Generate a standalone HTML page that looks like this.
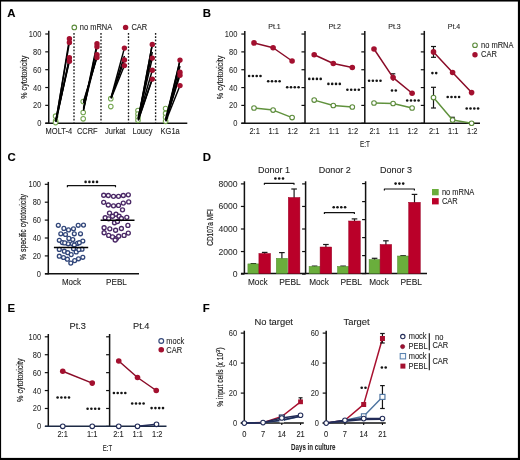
<!DOCTYPE html>
<html><head><meta charset="utf-8"><style>
html,body{margin:0;padding:0;background:#fff;}
svg{display:block;will-change:transform;}
text{font-family:"Liberation Sans", sans-serif;}
</style></head><body>
<svg width="520" height="460" viewBox="0 0 520 460">
<rect width="520" height="460" fill="#fff"/>
<rect x="0.5" y="0.5" width="518" height="458" fill="none" stroke="#000" stroke-width="1.2"/>
<rect x="518" y="0" width="2" height="460" fill="#000"/>
<rect x="0" y="0" width="520" height="1.5" fill="#000"/>
<rect x="0" y="458" width="520" height="2" fill="#000"/>
<text x="7.3" y="16.8" font-size="11.4" fill="#000" stroke="#000" stroke-width="0.1" font-weight="bold">A</text>
<line x1="48.75" y1="30.8" x2="48.75" y2="123.8" stroke="#111" stroke-width="1.5"/>
<line x1="45.25" y1="123.2" x2="48.75" y2="123.2" stroke="#111" stroke-width="1.2"/>
<text x="41.35" y="126.2" font-size="8.6" fill="#2a2a2a" stroke="#2a2a2a" stroke-width="0.05" text-anchor="end" textLength="4.16" lengthAdjust="spacingAndGlyphs">0</text>
<line x1="45.25" y1="105.36" x2="48.75" y2="105.36" stroke="#111" stroke-width="1.2"/>
<text x="41.35" y="108.36" font-size="8.6" fill="#2a2a2a" stroke="#2a2a2a" stroke-width="0.05" text-anchor="end" textLength="8.32" lengthAdjust="spacingAndGlyphs">20</text>
<line x1="45.25" y1="87.52" x2="48.75" y2="87.52" stroke="#111" stroke-width="1.2"/>
<text x="41.35" y="90.52" font-size="8.6" fill="#2a2a2a" stroke="#2a2a2a" stroke-width="0.05" text-anchor="end" textLength="8.32" lengthAdjust="spacingAndGlyphs">40</text>
<line x1="45.25" y1="69.68" x2="48.75" y2="69.68" stroke="#111" stroke-width="1.2"/>
<text x="41.35" y="72.68" font-size="8.6" fill="#2a2a2a" stroke="#2a2a2a" stroke-width="0.05" text-anchor="end" textLength="8.32" lengthAdjust="spacingAndGlyphs">60</text>
<line x1="45.25" y1="51.84" x2="48.75" y2="51.84" stroke="#111" stroke-width="1.2"/>
<text x="41.35" y="54.84" font-size="8.6" fill="#2a2a2a" stroke="#2a2a2a" stroke-width="0.05" text-anchor="end" textLength="8.32" lengthAdjust="spacingAndGlyphs">80</text>
<line x1="45.25" y1="34" x2="48.75" y2="34" stroke="#111" stroke-width="1.2"/>
<text x="41.35" y="37" font-size="8.6" fill="#2a2a2a" stroke="#2a2a2a" stroke-width="0.05" text-anchor="end" textLength="12.48" lengthAdjust="spacingAndGlyphs">100</text>
<line x1="45.3" y1="123.2" x2="187.3" y2="123.2" stroke="#111" stroke-width="1.5"/>
<line x1="74" y1="33" x2="74" y2="122.5" stroke="#1a1a1a" stroke-width="1.35" stroke-dasharray="1.7 1.6"/>
<line x1="101" y1="33" x2="101" y2="122.5" stroke="#1a1a1a" stroke-width="1.35" stroke-dasharray="1.7 1.6"/>
<line x1="128.5" y1="33" x2="128.5" y2="122.5" stroke="#1a1a1a" stroke-width="1.35" stroke-dasharray="1.7 1.6"/>
<line x1="155.6" y1="33" x2="155.6" y2="122.5" stroke="#1a1a1a" stroke-width="1.35" stroke-dasharray="1.7 1.6"/>
<text x="26.6" y="77.2" font-size="8.8" fill="#1e1e1e" stroke="#1e1e1e" stroke-width="0.2" text-anchor="middle" textLength="43" lengthAdjust="spacingAndGlyphs" transform="rotate(-90 26.6 77.2)">% cytotoxicity</text>
<circle cx="74.3" cy="27.4" r="2.3" fill="#fff" stroke="#5c8b3b" stroke-width="1.1"/>
<text x="79.8" y="29.9" font-size="8.6" fill="#1e1e1e" stroke="#1e1e1e" stroke-width="0.1" textLength="32.43" lengthAdjust="spacingAndGlyphs">no mRNA</text>
<circle cx="125.6" cy="27.4" r="2.7" fill="#a3102f" stroke="none" stroke-width="1"/>
<text x="131.4" y="29.9" font-size="8.6" fill="#1e1e1e" stroke="#1e1e1e" stroke-width="0.1" textLength="15.8" lengthAdjust="spacingAndGlyphs">CAR</text>
<circle cx="55.6" cy="116.2" r="2.3" fill="#fff" stroke="#74a650" stroke-width="1.05"/>
<circle cx="55.6" cy="121" r="2.3" fill="#fff" stroke="#74a650" stroke-width="1.05"/>
<circle cx="55.6" cy="122.6" r="2.3" fill="#fff" stroke="#74a650" stroke-width="1.05"/>
<circle cx="83.2" cy="101.5" r="2.3" fill="#fff" stroke="#74a650" stroke-width="1.05"/>
<circle cx="83.2" cy="112.5" r="2.3" fill="#fff" stroke="#74a650" stroke-width="1.05"/>
<circle cx="83.2" cy="118.8" r="2.3" fill="#fff" stroke="#74a650" stroke-width="1.05"/>
<circle cx="110.8" cy="98.7" r="2.3" fill="#fff" stroke="#74a650" stroke-width="1.05"/>
<circle cx="110.8" cy="106.6" r="2.3" fill="#fff" stroke="#74a650" stroke-width="1.05"/>
<circle cx="138" cy="110.5" r="2.3" fill="#fff" stroke="#74a650" stroke-width="1.05"/>
<circle cx="138" cy="114" r="2.3" fill="#fff" stroke="#74a650" stroke-width="1.05"/>
<circle cx="138" cy="117.3" r="2.3" fill="#fff" stroke="#74a650" stroke-width="1.05"/>
<circle cx="138" cy="120.3" r="2.3" fill="#fff" stroke="#74a650" stroke-width="1.05"/>
<circle cx="165.6" cy="108.5" r="2.3" fill="#fff" stroke="#74a650" stroke-width="1.05"/>
<circle cx="165.6" cy="113.4" r="2.3" fill="#fff" stroke="#74a650" stroke-width="1.05"/>
<circle cx="165.6" cy="117.3" r="2.3" fill="#fff" stroke="#74a650" stroke-width="1.05"/>
<circle cx="165.6" cy="121.3" r="2.3" fill="#fff" stroke="#74a650" stroke-width="1.05"/>
<line x1="55.9" y1="121.5" x2="69.4" y2="38.8" stroke="#000" stroke-width="1.45"/>
<line x1="55.9" y1="120.5" x2="69.4" y2="42.5" stroke="#000" stroke-width="1.45"/>
<line x1="55.9" y1="121.5" x2="69.4" y2="57.8" stroke="#000" stroke-width="1.45"/>
<line x1="55.9" y1="119.5" x2="69.4" y2="61.3" stroke="#000" stroke-width="1.45"/>
<line x1="55.9" y1="122" x2="69.4" y2="59" stroke="#000" stroke-width="1.45"/>
<line x1="83.5" y1="101.5" x2="97" y2="57.5" stroke="#000" stroke-width="1.45"/>
<line x1="83.5" y1="109.5" x2="97" y2="44" stroke="#000" stroke-width="1.45"/>
<line x1="83.5" y1="110.5" x2="97" y2="46.5" stroke="#000" stroke-width="1.45"/>
<line x1="83.5" y1="108" x2="97" y2="54.6" stroke="#000" stroke-width="1.45"/>
<line x1="83.5" y1="103" x2="97" y2="56" stroke="#000" stroke-width="1.45"/>
<line x1="111.1" y1="97.5" x2="124.4" y2="48.1" stroke="#000" stroke-width="1.45"/>
<line x1="111.1" y1="98" x2="124.4" y2="60" stroke="#000" stroke-width="1.45"/>
<line x1="111.1" y1="98.5" x2="124.4" y2="65.6" stroke="#000" stroke-width="1.45"/>
<line x1="111.1" y1="97.8" x2="124.4" y2="56" stroke="#000" stroke-width="1.45"/>
<line x1="138.3" y1="118.5" x2="152.3" y2="44.4" stroke="#000" stroke-width="1.45"/>
<line x1="138.3" y1="118" x2="152.3" y2="58.1" stroke="#000" stroke-width="1.45"/>
<line x1="138.3" y1="119" x2="152.3" y2="70.3" stroke="#000" stroke-width="1.45"/>
<line x1="138.3" y1="119.5" x2="152.3" y2="79.1" stroke="#000" stroke-width="1.45"/>
<line x1="138.3" y1="120" x2="152.3" y2="44.4" stroke="#000" stroke-width="1.45"/>
<line x1="138.3" y1="120.5" x2="152.3" y2="79" stroke="#000" stroke-width="1.45"/>
<line x1="138.3" y1="117.5" x2="152.3" y2="52" stroke="#000" stroke-width="1.45"/>
<line x1="165.9" y1="119" x2="180" y2="60.1" stroke="#000" stroke-width="1.45"/>
<line x1="165.9" y1="119.5" x2="180" y2="72.2" stroke="#000" stroke-width="1.45"/>
<line x1="165.9" y1="120" x2="180" y2="75.2" stroke="#000" stroke-width="1.45"/>
<line x1="165.9" y1="121" x2="180" y2="85.6" stroke="#000" stroke-width="1.45"/>
<line x1="165.9" y1="121.3" x2="180" y2="60.7" stroke="#000" stroke-width="1.45"/>
<line x1="165.9" y1="120.5" x2="180" y2="72" stroke="#000" stroke-width="1.45"/>
<line x1="165.9" y1="118" x2="180" y2="66" stroke="#000" stroke-width="1.45"/>
<circle cx="69.4" cy="38.8" r="2.7" fill="#a3102f" stroke="none" stroke-width="1"/>
<circle cx="69.4" cy="42.5" r="2.7" fill="#a3102f" stroke="none" stroke-width="1"/>
<circle cx="69.4" cy="57.8" r="2.7" fill="#a3102f" stroke="none" stroke-width="1"/>
<circle cx="69.4" cy="61.3" r="2.7" fill="#a3102f" stroke="none" stroke-width="1"/>
<circle cx="97" cy="43.8" r="2.7" fill="#a3102f" stroke="none" stroke-width="1"/>
<circle cx="97" cy="46.7" r="2.7" fill="#a3102f" stroke="none" stroke-width="1"/>
<circle cx="97" cy="54.6" r="2.7" fill="#a3102f" stroke="none" stroke-width="1"/>
<circle cx="97" cy="57.5" r="2.7" fill="#a3102f" stroke="none" stroke-width="1"/>
<circle cx="124.4" cy="48.1" r="2.7" fill="#a3102f" stroke="none" stroke-width="1"/>
<circle cx="124.4" cy="60" r="2.7" fill="#a3102f" stroke="none" stroke-width="1"/>
<circle cx="124.4" cy="65.6" r="2.7" fill="#a3102f" stroke="none" stroke-width="1"/>
<circle cx="152.3" cy="44.4" r="2.7" fill="#a3102f" stroke="none" stroke-width="1"/>
<circle cx="152.3" cy="58.1" r="2.7" fill="#a3102f" stroke="none" stroke-width="1"/>
<circle cx="152.3" cy="70.3" r="2.7" fill="#a3102f" stroke="none" stroke-width="1"/>
<circle cx="152.3" cy="79.1" r="2.7" fill="#a3102f" stroke="none" stroke-width="1"/>
<circle cx="180" cy="60.1" r="2.7" fill="#a3102f" stroke="none" stroke-width="1"/>
<circle cx="180" cy="72.2" r="2.7" fill="#a3102f" stroke="none" stroke-width="1"/>
<circle cx="180" cy="75.2" r="2.7" fill="#a3102f" stroke="none" stroke-width="1"/>
<circle cx="180" cy="85.6" r="2.7" fill="#a3102f" stroke="none" stroke-width="1"/>
<text x="45.6" y="133.7" font-size="8.6" fill="#1e1e1e" stroke="#1e1e1e" stroke-width="0.1" textLength="26.47" lengthAdjust="spacingAndGlyphs">MOLT-4</text>
<text x="76.9" y="133.7" font-size="8.6" fill="#1e1e1e" stroke="#1e1e1e" stroke-width="0.1" textLength="20.78" lengthAdjust="spacingAndGlyphs">CCRF</text>
<text x="105" y="133.7" font-size="8.6" fill="#1e1e1e" stroke="#1e1e1e" stroke-width="0.1" textLength="20.37" lengthAdjust="spacingAndGlyphs">Jurkat</text>
<text x="132.5" y="133.7" font-size="8.6" fill="#1e1e1e" stroke="#1e1e1e" stroke-width="0.1" textLength="19.97" lengthAdjust="spacingAndGlyphs">Loucy</text>
<text x="160.6" y="133.7" font-size="8.6" fill="#1e1e1e" stroke="#1e1e1e" stroke-width="0.1" textLength="19.13" lengthAdjust="spacingAndGlyphs">KG1a</text>
<text x="202.8" y="17.4" font-size="11.4" fill="#000" stroke="#000" stroke-width="0.1" font-weight="bold">B</text>
<line x1="244.8" y1="30.9" x2="244.8" y2="123.85" stroke="#111" stroke-width="1.5"/>
<line x1="241.3" y1="123.25" x2="244.8" y2="123.25" stroke="#111" stroke-width="1.2"/>
<text x="237.3" y="126.25" font-size="8.6" fill="#2a2a2a" stroke="#2a2a2a" stroke-width="0.05" text-anchor="end" textLength="4.16" lengthAdjust="spacingAndGlyphs">0</text>
<line x1="241.3" y1="105.41" x2="244.8" y2="105.41" stroke="#111" stroke-width="1.2"/>
<text x="237.3" y="108.41" font-size="8.6" fill="#2a2a2a" stroke="#2a2a2a" stroke-width="0.05" text-anchor="end" textLength="8.32" lengthAdjust="spacingAndGlyphs">20</text>
<line x1="241.3" y1="87.57" x2="244.8" y2="87.57" stroke="#111" stroke-width="1.2"/>
<text x="237.3" y="90.57" font-size="8.6" fill="#2a2a2a" stroke="#2a2a2a" stroke-width="0.05" text-anchor="end" textLength="8.32" lengthAdjust="spacingAndGlyphs">40</text>
<line x1="241.3" y1="69.73" x2="244.8" y2="69.73" stroke="#111" stroke-width="1.2"/>
<text x="237.3" y="72.73" font-size="8.6" fill="#2a2a2a" stroke="#2a2a2a" stroke-width="0.05" text-anchor="end" textLength="8.32" lengthAdjust="spacingAndGlyphs">60</text>
<line x1="241.3" y1="51.89" x2="244.8" y2="51.89" stroke="#111" stroke-width="1.2"/>
<text x="237.3" y="54.89" font-size="8.6" fill="#2a2a2a" stroke="#2a2a2a" stroke-width="0.05" text-anchor="end" textLength="8.32" lengthAdjust="spacingAndGlyphs">80</text>
<line x1="241.3" y1="34.05" x2="244.8" y2="34.05" stroke="#111" stroke-width="1.2"/>
<text x="237.3" y="37.05" font-size="8.6" fill="#2a2a2a" stroke="#2a2a2a" stroke-width="0.05" text-anchor="end" textLength="12.48" lengthAdjust="spacingAndGlyphs">100</text>
<line x1="305" y1="30.9" x2="305" y2="123.85" stroke="#111" stroke-width="1.5"/>
<line x1="301.5" y1="123.25" x2="305" y2="123.25" stroke="#111" stroke-width="1.2"/>
<line x1="301.5" y1="105.41" x2="305" y2="105.41" stroke="#111" stroke-width="1.2"/>
<line x1="301.5" y1="87.57" x2="305" y2="87.57" stroke="#111" stroke-width="1.2"/>
<line x1="301.5" y1="69.73" x2="305" y2="69.73" stroke="#111" stroke-width="1.2"/>
<line x1="301.5" y1="51.89" x2="305" y2="51.89" stroke="#111" stroke-width="1.2"/>
<line x1="301.5" y1="34.05" x2="305" y2="34.05" stroke="#111" stroke-width="1.2"/>
<line x1="364.8" y1="30.9" x2="364.8" y2="123.85" stroke="#111" stroke-width="1.5"/>
<line x1="361.3" y1="123.25" x2="364.8" y2="123.25" stroke="#111" stroke-width="1.2"/>
<line x1="361.3" y1="105.41" x2="364.8" y2="105.41" stroke="#111" stroke-width="1.2"/>
<line x1="361.3" y1="87.57" x2="364.8" y2="87.57" stroke="#111" stroke-width="1.2"/>
<line x1="361.3" y1="69.73" x2="364.8" y2="69.73" stroke="#111" stroke-width="1.2"/>
<line x1="361.3" y1="51.89" x2="364.8" y2="51.89" stroke="#111" stroke-width="1.2"/>
<line x1="361.3" y1="34.05" x2="364.8" y2="34.05" stroke="#111" stroke-width="1.2"/>
<line x1="424.3" y1="30.9" x2="424.3" y2="123.85" stroke="#111" stroke-width="1.5"/>
<line x1="420.8" y1="123.25" x2="424.3" y2="123.25" stroke="#111" stroke-width="1.2"/>
<line x1="420.8" y1="105.41" x2="424.3" y2="105.41" stroke="#111" stroke-width="1.2"/>
<line x1="420.8" y1="87.57" x2="424.3" y2="87.57" stroke="#111" stroke-width="1.2"/>
<line x1="420.8" y1="69.73" x2="424.3" y2="69.73" stroke="#111" stroke-width="1.2"/>
<line x1="420.8" y1="51.89" x2="424.3" y2="51.89" stroke="#111" stroke-width="1.2"/>
<line x1="420.8" y1="34.05" x2="424.3" y2="34.05" stroke="#111" stroke-width="1.2"/>
<line x1="241.3" y1="123.25" x2="480" y2="123.25" stroke="#111" stroke-width="1.5"/>
<text x="222.9" y="77.4" font-size="8.8" fill="#1e1e1e" stroke="#1e1e1e" stroke-width="0.2" text-anchor="middle" textLength="43.5" lengthAdjust="spacingAndGlyphs" transform="rotate(-90 222.9 77.4)">% cytotoxicity</text>
<text x="274.5" y="28.7" font-size="7" fill="#1e1e1e" stroke="#1e1e1e" stroke-width="0.1" text-anchor="middle">Pt.1</text>
<text x="254.6" y="133.9" font-size="8.6" fill="#1e1e1e" stroke="#1e1e1e" stroke-width="0.1" text-anchor="middle" textLength="10.4" lengthAdjust="spacingAndGlyphs">2:1</text>
<text x="273.7" y="133.9" font-size="8.6" fill="#1e1e1e" stroke="#1e1e1e" stroke-width="0.1" text-anchor="middle" textLength="10.4" lengthAdjust="spacingAndGlyphs">1:1</text>
<text x="292.7" y="133.9" font-size="8.6" fill="#1e1e1e" stroke="#1e1e1e" stroke-width="0.1" text-anchor="middle" textLength="10.4" lengthAdjust="spacingAndGlyphs">1:2</text>
<polyline points="254,42.9 273.1,47.75 292.1,61" fill="none" stroke="#8a0b27" stroke-width="1.5" stroke-linejoin="round"/>
<polyline points="254,108 273.1,110.1 292.1,117.6" fill="none" stroke="#60923d" stroke-width="1.5" stroke-linejoin="round"/>
<circle cx="254" cy="42.9" r="2.8" fill="#a3102f" stroke="none" stroke-width="1"/>
<circle cx="273.1" cy="47.75" r="2.8" fill="#a3102f" stroke="none" stroke-width="1"/>
<circle cx="292.1" cy="61" r="2.8" fill="#a3102f" stroke="none" stroke-width="1"/>
<circle cx="254" cy="108" r="2.3" fill="#fff" stroke="#5c8b3b" stroke-width="1.1"/>
<circle cx="273.1" cy="110.1" r="2.3" fill="#fff" stroke="#5c8b3b" stroke-width="1.1"/>
<circle cx="292.1" cy="117.6" r="2.3" fill="#fff" stroke="#5c8b3b" stroke-width="1.1"/>
<circle cx="249.1" cy="76" r="1.3" fill="#141414" stroke="none" stroke-width="1"/>
<circle cx="252.9" cy="76" r="1.3" fill="#141414" stroke="none" stroke-width="1"/>
<circle cx="256.7" cy="76" r="1.3" fill="#141414" stroke="none" stroke-width="1"/>
<circle cx="260.5" cy="76" r="1.3" fill="#141414" stroke="none" stroke-width="1"/>
<circle cx="268.2" cy="81.2" r="1.3" fill="#141414" stroke="none" stroke-width="1"/>
<circle cx="272" cy="81.2" r="1.3" fill="#141414" stroke="none" stroke-width="1"/>
<circle cx="275.8" cy="81.2" r="1.3" fill="#141414" stroke="none" stroke-width="1"/>
<circle cx="279.6" cy="81.2" r="1.3" fill="#141414" stroke="none" stroke-width="1"/>
<circle cx="287.2" cy="87.2" r="1.3" fill="#141414" stroke="none" stroke-width="1"/>
<circle cx="291" cy="87.2" r="1.3" fill="#141414" stroke="none" stroke-width="1"/>
<circle cx="294.8" cy="87.2" r="1.3" fill="#141414" stroke="none" stroke-width="1"/>
<circle cx="298.6" cy="87.2" r="1.3" fill="#141414" stroke="none" stroke-width="1"/>
<text x="334.7" y="28.7" font-size="7" fill="#1e1e1e" stroke="#1e1e1e" stroke-width="0.1" text-anchor="middle">Pt.2</text>
<text x="314.8" y="133.9" font-size="8.6" fill="#1e1e1e" stroke="#1e1e1e" stroke-width="0.1" text-anchor="middle" textLength="10.4" lengthAdjust="spacingAndGlyphs">2:1</text>
<text x="333.9" y="133.9" font-size="8.6" fill="#1e1e1e" stroke="#1e1e1e" stroke-width="0.1" text-anchor="middle" textLength="10.4" lengthAdjust="spacingAndGlyphs">1:1</text>
<text x="352.9" y="133.9" font-size="8.6" fill="#1e1e1e" stroke="#1e1e1e" stroke-width="0.1" text-anchor="middle" textLength="10.4" lengthAdjust="spacingAndGlyphs">1:2</text>
<polyline points="314.2,54.75 333.3,63.5 352.3,67.5" fill="none" stroke="#8a0b27" stroke-width="1.5" stroke-linejoin="round"/>
<polyline points="314.2,100.1 333.3,105.5 352.3,107" fill="none" stroke="#60923d" stroke-width="1.5" stroke-linejoin="round"/>
<circle cx="314.2" cy="54.75" r="2.8" fill="#a3102f" stroke="none" stroke-width="1"/>
<circle cx="333.3" cy="63.5" r="2.8" fill="#a3102f" stroke="none" stroke-width="1"/>
<circle cx="352.3" cy="67.5" r="2.8" fill="#a3102f" stroke="none" stroke-width="1"/>
<circle cx="314.2" cy="100.1" r="2.3" fill="#fff" stroke="#5c8b3b" stroke-width="1.1"/>
<circle cx="333.3" cy="105.5" r="2.3" fill="#fff" stroke="#5c8b3b" stroke-width="1.1"/>
<circle cx="352.3" cy="107" r="2.3" fill="#fff" stroke="#5c8b3b" stroke-width="1.1"/>
<circle cx="309.3" cy="78.9" r="1.3" fill="#141414" stroke="none" stroke-width="1"/>
<circle cx="313.1" cy="78.9" r="1.3" fill="#141414" stroke="none" stroke-width="1"/>
<circle cx="316.9" cy="78.9" r="1.3" fill="#141414" stroke="none" stroke-width="1"/>
<circle cx="320.7" cy="78.9" r="1.3" fill="#141414" stroke="none" stroke-width="1"/>
<circle cx="328.4" cy="83.9" r="1.3" fill="#141414" stroke="none" stroke-width="1"/>
<circle cx="332.2" cy="83.9" r="1.3" fill="#141414" stroke="none" stroke-width="1"/>
<circle cx="336" cy="83.9" r="1.3" fill="#141414" stroke="none" stroke-width="1"/>
<circle cx="339.8" cy="83.9" r="1.3" fill="#141414" stroke="none" stroke-width="1"/>
<circle cx="347.4" cy="89.75" r="1.3" fill="#141414" stroke="none" stroke-width="1"/>
<circle cx="351.2" cy="89.75" r="1.3" fill="#141414" stroke="none" stroke-width="1"/>
<circle cx="355" cy="89.75" r="1.3" fill="#141414" stroke="none" stroke-width="1"/>
<circle cx="358.8" cy="89.75" r="1.3" fill="#141414" stroke="none" stroke-width="1"/>
<text x="394.5" y="28.7" font-size="7" fill="#1e1e1e" stroke="#1e1e1e" stroke-width="0.1" text-anchor="middle">Pt.3</text>
<text x="374.6" y="133.9" font-size="8.6" fill="#1e1e1e" stroke="#1e1e1e" stroke-width="0.1" text-anchor="middle" textLength="10.4" lengthAdjust="spacingAndGlyphs">2:1</text>
<text x="393.7" y="133.9" font-size="8.6" fill="#1e1e1e" stroke="#1e1e1e" stroke-width="0.1" text-anchor="middle" textLength="10.4" lengthAdjust="spacingAndGlyphs">1:1</text>
<text x="412.7" y="133.9" font-size="8.6" fill="#1e1e1e" stroke="#1e1e1e" stroke-width="0.1" text-anchor="middle" textLength="10.4" lengthAdjust="spacingAndGlyphs">1:2</text>
<line x1="393.1" y1="73.8" x2="393.1" y2="81" stroke="#8a0b27" stroke-width="1.1"/>
<line x1="390.9" y1="73.8" x2="395.3" y2="73.8" stroke="#151515" stroke-width="1.2"/>
<polyline points="374,49 393.1,77.6 412.1,93.25" fill="none" stroke="#8a0b27" stroke-width="1.5" stroke-linejoin="round"/>
<polyline points="374,103 393.1,103.5 412.1,108" fill="none" stroke="#60923d" stroke-width="1.5" stroke-linejoin="round"/>
<circle cx="374" cy="49" r="2.8" fill="#a3102f" stroke="none" stroke-width="1"/>
<circle cx="393.1" cy="77.6" r="2.8" fill="#a3102f" stroke="none" stroke-width="1"/>
<circle cx="412.1" cy="93.25" r="2.8" fill="#a3102f" stroke="none" stroke-width="1"/>
<circle cx="374" cy="103" r="2.3" fill="#fff" stroke="#5c8b3b" stroke-width="1.1"/>
<circle cx="393.1" cy="103.5" r="2.3" fill="#fff" stroke="#5c8b3b" stroke-width="1.1"/>
<circle cx="412.1" cy="108" r="2.3" fill="#fff" stroke="#5c8b3b" stroke-width="1.1"/>
<circle cx="369.1" cy="80.75" r="1.3" fill="#141414" stroke="none" stroke-width="1"/>
<circle cx="372.9" cy="80.75" r="1.3" fill="#141414" stroke="none" stroke-width="1"/>
<circle cx="376.7" cy="80.75" r="1.3" fill="#141414" stroke="none" stroke-width="1"/>
<circle cx="380.5" cy="80.75" r="1.3" fill="#141414" stroke="none" stroke-width="1"/>
<circle cx="392" cy="90.5" r="1.3" fill="#141414" stroke="none" stroke-width="1"/>
<circle cx="395.8" cy="90.5" r="1.3" fill="#141414" stroke="none" stroke-width="1"/>
<circle cx="407.2" cy="100.5" r="1.3" fill="#141414" stroke="none" stroke-width="1"/>
<circle cx="411" cy="100.5" r="1.3" fill="#141414" stroke="none" stroke-width="1"/>
<circle cx="414.8" cy="100.5" r="1.3" fill="#141414" stroke="none" stroke-width="1"/>
<circle cx="418.6" cy="100.5" r="1.3" fill="#141414" stroke="none" stroke-width="1"/>
<text x="454" y="28.7" font-size="7" fill="#1e1e1e" stroke="#1e1e1e" stroke-width="0.1" text-anchor="middle">Pt.4</text>
<text x="434.1" y="133.9" font-size="8.6" fill="#1e1e1e" stroke="#1e1e1e" stroke-width="0.1" text-anchor="middle" textLength="10.4" lengthAdjust="spacingAndGlyphs">2:1</text>
<text x="453.2" y="133.9" font-size="8.6" fill="#1e1e1e" stroke="#1e1e1e" stroke-width="0.1" text-anchor="middle" textLength="10.4" lengthAdjust="spacingAndGlyphs">1:1</text>
<text x="472.2" y="133.9" font-size="8.6" fill="#1e1e1e" stroke="#1e1e1e" stroke-width="0.1" text-anchor="middle" textLength="10.4" lengthAdjust="spacingAndGlyphs">1:2</text>
<line x1="433.5" y1="46.5" x2="433.5" y2="57.3" stroke="#151515" stroke-width="1.2"/>
<line x1="431" y1="46.5" x2="436" y2="46.5" stroke="#151515" stroke-width="1.2"/>
<line x1="431" y1="57.3" x2="436" y2="57.3" stroke="#151515" stroke-width="1.2"/>
<line x1="433.5" y1="87.3" x2="433.5" y2="108" stroke="#151515" stroke-width="1.2"/>
<line x1="431" y1="87.3" x2="436" y2="87.3" stroke="#151515" stroke-width="1.2"/>
<line x1="431" y1="108" x2="436" y2="108" stroke="#151515" stroke-width="1.2"/>
<line x1="452.6" y1="117.3" x2="452.6" y2="121" stroke="#151515" stroke-width="1.2"/>
<line x1="450.4" y1="117.3" x2="454.8" y2="117.3" stroke="#151515" stroke-width="1.2"/>
<polyline points="433.5,51.9 452.6,72.5 471.6,92.6" fill="none" stroke="#8a0b27" stroke-width="1.5" stroke-linejoin="round"/>
<polyline points="433.5,97.6 452.6,120.1 471.6,123.25" fill="none" stroke="#60923d" stroke-width="1.5" stroke-linejoin="round"/>
<circle cx="433.5" cy="51.9" r="2.8" fill="#a3102f" stroke="none" stroke-width="1"/>
<circle cx="452.6" cy="72.5" r="2.8" fill="#a3102f" stroke="none" stroke-width="1"/>
<circle cx="471.6" cy="92.6" r="2.8" fill="#a3102f" stroke="none" stroke-width="1"/>
<circle cx="433.5" cy="97.6" r="2.3" fill="#fff" stroke="#5c8b3b" stroke-width="1.1"/>
<circle cx="452.6" cy="120.1" r="2.3" fill="#fff" stroke="#5c8b3b" stroke-width="1.1"/>
<circle cx="471.6" cy="123.25" r="2.3" fill="#fff" stroke="#5c8b3b" stroke-width="1.1"/>
<circle cx="432.4" cy="73.1" r="1.3" fill="#141414" stroke="none" stroke-width="1"/>
<circle cx="436.2" cy="73.1" r="1.3" fill="#141414" stroke="none" stroke-width="1"/>
<circle cx="447.7" cy="97" r="1.3" fill="#141414" stroke="none" stroke-width="1"/>
<circle cx="451.5" cy="97" r="1.3" fill="#141414" stroke="none" stroke-width="1"/>
<circle cx="455.3" cy="97" r="1.3" fill="#141414" stroke="none" stroke-width="1"/>
<circle cx="459.1" cy="97" r="1.3" fill="#141414" stroke="none" stroke-width="1"/>
<circle cx="466.7" cy="108.5" r="1.3" fill="#141414" stroke="none" stroke-width="1"/>
<circle cx="470.5" cy="108.5" r="1.3" fill="#141414" stroke="none" stroke-width="1"/>
<circle cx="474.3" cy="108.5" r="1.3" fill="#141414" stroke="none" stroke-width="1"/>
<circle cx="478.1" cy="108.5" r="1.3" fill="#141414" stroke="none" stroke-width="1"/>
<text x="364.9" y="146.9" font-size="9.3" fill="#1e1e1e" stroke="#1e1e1e" stroke-width="0.15" text-anchor="middle" textLength="9.8" lengthAdjust="spacingAndGlyphs">E:T</text>
<circle cx="475" cy="45.25" r="2.3" fill="#fff" stroke="#5c8b3b" stroke-width="1.1"/>
<text x="481" y="47.6" font-size="8.6" fill="#1e1e1e" stroke="#1e1e1e" stroke-width="0.1" textLength="32.43" lengthAdjust="spacingAndGlyphs">no mRNA</text>
<circle cx="475" cy="54.75" r="2.7" fill="#a3102f" stroke="none" stroke-width="1"/>
<text x="481" y="57.2" font-size="8.6" fill="#1e1e1e" stroke="#1e1e1e" stroke-width="0.1" textLength="15.8" lengthAdjust="spacingAndGlyphs">CAR</text>
<text x="7.5" y="161.2" font-size="11.4" fill="#000" stroke="#000" stroke-width="0.1" font-weight="bold">C</text>
<line x1="48.3" y1="181.9" x2="48.3" y2="274.4" stroke="#111" stroke-width="1.5"/>
<line x1="44.8" y1="273.8" x2="48.3" y2="273.8" stroke="#111" stroke-width="1.2"/>
<text x="41" y="276.8" font-size="8.6" fill="#2a2a2a" stroke="#2a2a2a" stroke-width="0.05" text-anchor="end" textLength="4.16" lengthAdjust="spacingAndGlyphs">0</text>
<line x1="44.8" y1="255.9" x2="48.3" y2="255.9" stroke="#111" stroke-width="1.2"/>
<text x="41" y="258.9" font-size="8.6" fill="#2a2a2a" stroke="#2a2a2a" stroke-width="0.05" text-anchor="end" textLength="8.32" lengthAdjust="spacingAndGlyphs">20</text>
<line x1="44.8" y1="238" x2="48.3" y2="238" stroke="#111" stroke-width="1.2"/>
<text x="41" y="241" font-size="8.6" fill="#2a2a2a" stroke="#2a2a2a" stroke-width="0.05" text-anchor="end" textLength="8.32" lengthAdjust="spacingAndGlyphs">40</text>
<line x1="44.8" y1="220.1" x2="48.3" y2="220.1" stroke="#111" stroke-width="1.2"/>
<text x="41" y="223.1" font-size="8.6" fill="#2a2a2a" stroke="#2a2a2a" stroke-width="0.05" text-anchor="end" textLength="8.32" lengthAdjust="spacingAndGlyphs">60</text>
<line x1="44.8" y1="202.2" x2="48.3" y2="202.2" stroke="#111" stroke-width="1.2"/>
<text x="41" y="205.2" font-size="8.6" fill="#2a2a2a" stroke="#2a2a2a" stroke-width="0.05" text-anchor="end" textLength="8.32" lengthAdjust="spacingAndGlyphs">80</text>
<line x1="44.8" y1="184.3" x2="48.3" y2="184.3" stroke="#111" stroke-width="1.2"/>
<text x="41" y="187.3" font-size="8.6" fill="#2a2a2a" stroke="#2a2a2a" stroke-width="0.05" text-anchor="end" textLength="12.48" lengthAdjust="spacingAndGlyphs">100</text>
<line x1="45" y1="273.8" x2="139" y2="273.8" stroke="#111" stroke-width="1.5"/>
<text x="26.3" y="227" font-size="8.8" fill="#1e1e1e" stroke="#1e1e1e" stroke-width="0.2" text-anchor="middle" textLength="66" lengthAdjust="spacingAndGlyphs" transform="rotate(-90 26.3 227)">% specific cytotoxicity</text>
<text x="61.9" y="285.1" font-size="8.6" fill="#1e1e1e" stroke="#1e1e1e" stroke-width="0.1" textLength="19.11" lengthAdjust="spacingAndGlyphs">Mock</text>
<text x="106" y="285.1" font-size="8.6" fill="#1e1e1e" stroke="#1e1e1e" stroke-width="0.1" textLength="20.89" lengthAdjust="spacingAndGlyphs">PEBL</text>
<polyline points="67.4,187.2 67.4,185.6 115.5,185.6 115.5,187.2" fill="none" stroke="#111" stroke-width="1.2" stroke-linejoin="round"/>
<circle cx="85.6" cy="181.9" r="1.3" fill="#141414" stroke="none" stroke-width="1"/>
<circle cx="89.4" cy="181.9" r="1.3" fill="#141414" stroke="none" stroke-width="1"/>
<circle cx="93.2" cy="181.9" r="1.3" fill="#141414" stroke="none" stroke-width="1"/>
<circle cx="97" cy="181.9" r="1.3" fill="#141414" stroke="none" stroke-width="1"/>
<circle cx="58.3" cy="225.3" r="1.95" fill="#fff" stroke="#31467a" stroke-width="1.3"/>
<circle cx="78.2" cy="225.3" r="1.95" fill="#fff" stroke="#31467a" stroke-width="1.3"/>
<circle cx="83.5" cy="225.1" r="1.95" fill="#fff" stroke="#31467a" stroke-width="1.3"/>
<circle cx="63.9" cy="228.4" r="1.95" fill="#fff" stroke="#31467a" stroke-width="1.3"/>
<circle cx="68.5" cy="229.9" r="1.95" fill="#fff" stroke="#31467a" stroke-width="1.3"/>
<circle cx="73.5" cy="228.8" r="1.95" fill="#fff" stroke="#31467a" stroke-width="1.3"/>
<circle cx="60.8" cy="233.8" r="1.95" fill="#fff" stroke="#31467a" stroke-width="1.3"/>
<circle cx="65.5" cy="234.5" r="1.95" fill="#fff" stroke="#31467a" stroke-width="1.3"/>
<circle cx="74.3" cy="233.8" r="1.95" fill="#fff" stroke="#31467a" stroke-width="1.3"/>
<circle cx="80.5" cy="233.8" r="1.95" fill="#fff" stroke="#31467a" stroke-width="1.3"/>
<circle cx="59.3" cy="240.3" r="1.95" fill="#fff" stroke="#31467a" stroke-width="1.3"/>
<circle cx="68.9" cy="238.4" r="1.95" fill="#fff" stroke="#31467a" stroke-width="1.3"/>
<circle cx="72.8" cy="239.5" r="1.95" fill="#fff" stroke="#31467a" stroke-width="1.3"/>
<circle cx="82.8" cy="241" r="1.95" fill="#fff" stroke="#31467a" stroke-width="1.3"/>
<circle cx="62.4" cy="242.6" r="1.95" fill="#fff" stroke="#31467a" stroke-width="1.3"/>
<circle cx="77.4" cy="243.4" r="1.95" fill="#fff" stroke="#31467a" stroke-width="1.3"/>
<circle cx="68.2" cy="243.8" r="1.95" fill="#fff" stroke="#31467a" stroke-width="1.3"/>
<circle cx="72.4" cy="243.8" r="1.95" fill="#fff" stroke="#31467a" stroke-width="1.3"/>
<circle cx="64.7" cy="242.9" r="1.95" fill="#fff" stroke="#31467a" stroke-width="1.3"/>
<circle cx="74.3" cy="245" r="1.95" fill="#fff" stroke="#31467a" stroke-width="1.3"/>
<circle cx="79.3" cy="242.7" r="1.95" fill="#fff" stroke="#31467a" stroke-width="1.3"/>
<circle cx="59.3" cy="249.4" r="1.95" fill="#fff" stroke="#31467a" stroke-width="1.3"/>
<circle cx="64.3" cy="251.2" r="1.95" fill="#fff" stroke="#31467a" stroke-width="1.3"/>
<circle cx="67.8" cy="252.7" r="1.95" fill="#fff" stroke="#31467a" stroke-width="1.3"/>
<circle cx="71.2" cy="254.6" r="1.95" fill="#fff" stroke="#31467a" stroke-width="1.3"/>
<circle cx="76.2" cy="251.9" r="1.95" fill="#fff" stroke="#31467a" stroke-width="1.3"/>
<circle cx="82" cy="249.2" r="1.95" fill="#fff" stroke="#31467a" stroke-width="1.3"/>
<circle cx="78.9" cy="249.6" r="1.95" fill="#fff" stroke="#31467a" stroke-width="1.3"/>
<circle cx="73.5" cy="248.8" r="1.95" fill="#fff" stroke="#31467a" stroke-width="1.3"/>
<circle cx="59.3" cy="256.2" r="1.95" fill="#fff" stroke="#31467a" stroke-width="1.3"/>
<circle cx="63.5" cy="257.5" r="1.95" fill="#fff" stroke="#31467a" stroke-width="1.3"/>
<circle cx="67.4" cy="259.2" r="1.95" fill="#fff" stroke="#31467a" stroke-width="1.3"/>
<circle cx="70.8" cy="263.1" r="1.95" fill="#fff" stroke="#31467a" stroke-width="1.3"/>
<circle cx="74.7" cy="260.6" r="1.95" fill="#fff" stroke="#31467a" stroke-width="1.3"/>
<circle cx="78.5" cy="258.8" r="1.95" fill="#fff" stroke="#31467a" stroke-width="1.3"/>
<circle cx="82.8" cy="257.3" r="1.95" fill="#fff" stroke="#31467a" stroke-width="1.3"/>
<circle cx="103.7" cy="195.2" r="2" fill="#fff" stroke="#4a2866" stroke-width="1.35"/>
<circle cx="108.3" cy="195.5" r="2" fill="#fff" stroke="#4a2866" stroke-width="1.35"/>
<circle cx="113.5" cy="196.3" r="2" fill="#fff" stroke="#4a2866" stroke-width="1.35"/>
<circle cx="118.5" cy="196.3" r="2" fill="#fff" stroke="#4a2866" stroke-width="1.35"/>
<circle cx="123.3" cy="195.5" r="2" fill="#fff" stroke="#4a2866" stroke-width="1.35"/>
<circle cx="128.3" cy="194.8" r="2" fill="#fff" stroke="#4a2866" stroke-width="1.35"/>
<circle cx="103.7" cy="202.3" r="2" fill="#fff" stroke="#4a2866" stroke-width="1.35"/>
<circle cx="108.3" cy="205" r="2" fill="#fff" stroke="#4a2866" stroke-width="1.35"/>
<circle cx="113.5" cy="205.8" r="2" fill="#fff" stroke="#4a2866" stroke-width="1.35"/>
<circle cx="118.5" cy="205.4" r="2" fill="#fff" stroke="#4a2866" stroke-width="1.35"/>
<circle cx="123.3" cy="203.1" r="2" fill="#fff" stroke="#4a2866" stroke-width="1.35"/>
<circle cx="128.7" cy="201.9" r="2" fill="#fff" stroke="#4a2866" stroke-width="1.35"/>
<circle cx="122.5" cy="209.8" r="2" fill="#fff" stroke="#4a2866" stroke-width="1.35"/>
<circle cx="109.5" cy="213.1" r="2" fill="#fff" stroke="#4a2866" stroke-width="1.35"/>
<circle cx="116" cy="214.2" r="2" fill="#fff" stroke="#4a2866" stroke-width="1.35"/>
<circle cx="105.2" cy="217.7" r="2" fill="#fff" stroke="#4a2866" stroke-width="1.35"/>
<circle cx="112.5" cy="216.2" r="2" fill="#fff" stroke="#4a2866" stroke-width="1.35"/>
<circle cx="119.1" cy="216.2" r="2" fill="#fff" stroke="#4a2866" stroke-width="1.35"/>
<circle cx="126.8" cy="217.3" r="2" fill="#fff" stroke="#4a2866" stroke-width="1.35"/>
<circle cx="108.7" cy="218.8" r="2" fill="#fff" stroke="#4a2866" stroke-width="1.35"/>
<circle cx="121.4" cy="218.5" r="2" fill="#fff" stroke="#4a2866" stroke-width="1.35"/>
<circle cx="114.5" cy="222.7" r="2" fill="#fff" stroke="#4a2866" stroke-width="1.35"/>
<circle cx="117.5" cy="221.5" r="2" fill="#fff" stroke="#4a2866" stroke-width="1.35"/>
<circle cx="104.1" cy="227.7" r="2" fill="#fff" stroke="#4a2866" stroke-width="1.35"/>
<circle cx="109.8" cy="228.8" r="2" fill="#fff" stroke="#4a2866" stroke-width="1.35"/>
<circle cx="115.6" cy="230.2" r="2" fill="#fff" stroke="#4a2866" stroke-width="1.35"/>
<circle cx="121.4" cy="228.5" r="2" fill="#fff" stroke="#4a2866" stroke-width="1.35"/>
<circle cx="127.9" cy="225.4" r="2" fill="#fff" stroke="#4a2866" stroke-width="1.35"/>
<circle cx="104.1" cy="232.7" r="2" fill="#fff" stroke="#4a2866" stroke-width="1.35"/>
<circle cx="108.7" cy="235.4" r="2" fill="#fff" stroke="#4a2866" stroke-width="1.35"/>
<circle cx="112.5" cy="236.9" r="2" fill="#fff" stroke="#4a2866" stroke-width="1.35"/>
<circle cx="116.4" cy="238.5" r="2" fill="#fff" stroke="#4a2866" stroke-width="1.35"/>
<circle cx="118.7" cy="236.2" r="2" fill="#fff" stroke="#4a2866" stroke-width="1.35"/>
<circle cx="124.1" cy="235.4" r="2" fill="#fff" stroke="#4a2866" stroke-width="1.35"/>
<circle cx="128.3" cy="233.1" r="2" fill="#fff" stroke="#4a2866" stroke-width="1.35"/>
<circle cx="115.2" cy="240" r="2" fill="#fff" stroke="#4a2866" stroke-width="1.35"/>
<line x1="53.9" y1="247.5" x2="88.2" y2="247.5" stroke="#000" stroke-width="1.4"/>
<line x1="100.6" y1="220.3" x2="134.5" y2="220.3" stroke="#000" stroke-width="1.4"/>
<text x="202.8" y="161.2" font-size="11.4" fill="#000" stroke="#000" stroke-width="0.1" font-weight="bold">D</text>
<line x1="244.4" y1="181.3" x2="244.4" y2="274.1" stroke="#111" stroke-width="1.5"/>
<line x1="240.9" y1="274.1" x2="244.4" y2="274.1" stroke="#111" stroke-width="1.2"/>
<text x="237.6" y="277.1" font-size="8.6" fill="#2a2a2a" stroke="#2a2a2a" stroke-width="0.05" text-anchor="end" textLength="4.78" lengthAdjust="spacingAndGlyphs">0</text>
<line x1="240.9" y1="251.55" x2="244.4" y2="251.55" stroke="#111" stroke-width="1.2"/>
<text x="237.6" y="254.55" font-size="8.6" fill="#2a2a2a" stroke="#2a2a2a" stroke-width="0.05" text-anchor="end" textLength="19.13" lengthAdjust="spacingAndGlyphs">2000</text>
<line x1="240.9" y1="229" x2="244.4" y2="229" stroke="#111" stroke-width="1.2"/>
<text x="237.6" y="232" font-size="8.6" fill="#2a2a2a" stroke="#2a2a2a" stroke-width="0.05" text-anchor="end" textLength="19.13" lengthAdjust="spacingAndGlyphs">4000</text>
<line x1="240.9" y1="206.45" x2="244.4" y2="206.45" stroke="#111" stroke-width="1.2"/>
<text x="237.6" y="209.45" font-size="8.6" fill="#2a2a2a" stroke="#2a2a2a" stroke-width="0.05" text-anchor="end" textLength="19.13" lengthAdjust="spacingAndGlyphs">6000</text>
<line x1="240.9" y1="183.9" x2="244.4" y2="183.9" stroke="#111" stroke-width="1.2"/>
<text x="237.6" y="186.9" font-size="8.6" fill="#2a2a2a" stroke="#2a2a2a" stroke-width="0.05" text-anchor="end" textLength="19.13" lengthAdjust="spacingAndGlyphs">8000</text>
<line x1="305.6" y1="181.3" x2="305.6" y2="274.1" stroke="#111" stroke-width="1.5"/>
<line x1="302.1" y1="274.1" x2="305.6" y2="274.1" stroke="#111" stroke-width="1.2"/>
<line x1="302.1" y1="251.55" x2="305.6" y2="251.55" stroke="#111" stroke-width="1.2"/>
<line x1="302.1" y1="229" x2="305.6" y2="229" stroke="#111" stroke-width="1.2"/>
<line x1="302.1" y1="206.45" x2="305.6" y2="206.45" stroke="#111" stroke-width="1.2"/>
<line x1="302.1" y1="183.9" x2="305.6" y2="183.9" stroke="#111" stroke-width="1.2"/>
<line x1="365.6" y1="181.3" x2="365.6" y2="274.1" stroke="#111" stroke-width="1.5"/>
<line x1="362.1" y1="273.6" x2="365.6" y2="273.6" stroke="#111" stroke-width="1.2"/>
<line x1="362.1" y1="255.6" x2="365.6" y2="255.6" stroke="#111" stroke-width="1.2"/>
<line x1="362.1" y1="237.6" x2="365.6" y2="237.6" stroke="#111" stroke-width="1.2"/>
<line x1="362.1" y1="219.6" x2="365.6" y2="219.6" stroke="#111" stroke-width="1.2"/>
<line x1="362.1" y1="201.6" x2="365.6" y2="201.6" stroke="#111" stroke-width="1.2"/>
<line x1="362.1" y1="183.6" x2="365.6" y2="183.6" stroke="#111" stroke-width="1.2"/>
<line x1="241" y1="273.5" x2="427" y2="273.5" stroke="#111" stroke-width="1.5"/>
<text x="212.8" y="227.5" font-size="8.6" fill="#1e1e1e" stroke="#1e1e1e" stroke-width="0.2" text-anchor="middle" textLength="36.5" lengthAdjust="spacingAndGlyphs" transform="rotate(-90 212.8 227.5)">CD107a MFI</text>
<line x1="253.4" y1="263.6" x2="253.4" y2="264.9" stroke="#1a1a1a" stroke-width="1.2"/>
<line x1="250.6" y1="263.6" x2="256.2" y2="263.6" stroke="#1a1a1a" stroke-width="1.2"/>
<rect x="247.9" y="263.9" width="11" height="9.6" fill="#6aae3c" stroke="#4f8a2c" stroke-width="0.5"/>
<line x1="264.7" y1="252.4" x2="264.7" y2="254.5" stroke="#1a1a1a" stroke-width="1.2"/>
<line x1="261.9" y1="252.4" x2="267.5" y2="252.4" stroke="#1a1a1a" stroke-width="1.2"/>
<rect x="258.9" y="253.5" width="11.6" height="20" fill="#ba0029" stroke="#9a0024" stroke-width="0.5"/>
<line x1="281.9" y1="252.6" x2="281.9" y2="259.3" stroke="#1a1a1a" stroke-width="1.2"/>
<line x1="279.1" y1="252.6" x2="284.7" y2="252.6" stroke="#1a1a1a" stroke-width="1.2"/>
<rect x="276.3" y="258.3" width="11.2" height="15.2" fill="#6aae3c" stroke="#4f8a2c" stroke-width="0.5"/>
<line x1="294.1" y1="189" x2="294.1" y2="198.5" stroke="#1a1a1a" stroke-width="1.2"/>
<line x1="291.3" y1="189" x2="296.9" y2="189" stroke="#1a1a1a" stroke-width="1.2"/>
<rect x="288.3" y="197.5" width="11.6" height="76" fill="#ba0029" stroke="#9a0024" stroke-width="0.5"/>
<text x="257.8" y="285.1" font-size="8.6" fill="#1e1e1e" stroke="#1e1e1e" stroke-width="0.1" text-anchor="middle" textLength="19.73" lengthAdjust="spacingAndGlyphs">Mock</text>
<text x="290" y="285.1" font-size="8.6" fill="#1e1e1e" stroke="#1e1e1e" stroke-width="0.1" text-anchor="middle" textLength="21.55" lengthAdjust="spacingAndGlyphs">PEBL</text>
<line x1="314.6" y1="266.1" x2="314.6" y2="267.4" stroke="#1a1a1a" stroke-width="1.2"/>
<line x1="311.8" y1="266.1" x2="317.4" y2="266.1" stroke="#1a1a1a" stroke-width="1.2"/>
<rect x="309.1" y="266.4" width="11" height="7.1" fill="#6aae3c" stroke="#4f8a2c" stroke-width="0.5"/>
<line x1="325.9" y1="244.5" x2="325.9" y2="248" stroke="#1a1a1a" stroke-width="1.2"/>
<line x1="323.1" y1="244.5" x2="328.7" y2="244.5" stroke="#1a1a1a" stroke-width="1.2"/>
<rect x="320.1" y="247" width="11.6" height="26.5" fill="#ba0029" stroke="#9a0024" stroke-width="0.5"/>
<line x1="343.1" y1="266.1" x2="343.1" y2="267.4" stroke="#1a1a1a" stroke-width="1.2"/>
<line x1="340.3" y1="266.1" x2="345.9" y2="266.1" stroke="#1a1a1a" stroke-width="1.2"/>
<rect x="337.5" y="266.4" width="11.2" height="7.1" fill="#6aae3c" stroke="#4f8a2c" stroke-width="0.5"/>
<line x1="354.5" y1="218.9" x2="354.5" y2="222" stroke="#1a1a1a" stroke-width="1.2"/>
<line x1="351.7" y1="218.9" x2="357.3" y2="218.9" stroke="#1a1a1a" stroke-width="1.2"/>
<rect x="348.7" y="221" width="11.6" height="52.5" fill="#ba0029" stroke="#9a0024" stroke-width="0.5"/>
<text x="319" y="285.1" font-size="8.6" fill="#1e1e1e" stroke="#1e1e1e" stroke-width="0.1" text-anchor="middle" textLength="19.73" lengthAdjust="spacingAndGlyphs">Mock</text>
<text x="351.2" y="285.1" font-size="8.6" fill="#1e1e1e" stroke="#1e1e1e" stroke-width="0.1" text-anchor="middle" textLength="21.55" lengthAdjust="spacingAndGlyphs">PEBL</text>
<line x1="374.6" y1="258.3" x2="374.6" y2="260.5" stroke="#1a1a1a" stroke-width="1.2"/>
<line x1="371.8" y1="258.3" x2="377.4" y2="258.3" stroke="#1a1a1a" stroke-width="1.2"/>
<rect x="369.1" y="259.5" width="11" height="14" fill="#6aae3c" stroke="#4f8a2c" stroke-width="0.5"/>
<line x1="385.9" y1="240.8" x2="385.9" y2="245.5" stroke="#1a1a1a" stroke-width="1.2"/>
<line x1="383.1" y1="240.8" x2="388.7" y2="240.8" stroke="#1a1a1a" stroke-width="1.2"/>
<rect x="380.1" y="244.5" width="11.6" height="29" fill="#ba0029" stroke="#9a0024" stroke-width="0.5"/>
<line x1="403.1" y1="255.7" x2="403.1" y2="257" stroke="#1a1a1a" stroke-width="1.2"/>
<line x1="400.3" y1="255.7" x2="405.9" y2="255.7" stroke="#1a1a1a" stroke-width="1.2"/>
<rect x="397.5" y="256" width="11.2" height="17.5" fill="#6aae3c" stroke="#4f8a2c" stroke-width="0.5"/>
<line x1="414.5" y1="194.4" x2="414.5" y2="203.3" stroke="#1a1a1a" stroke-width="1.2"/>
<line x1="411.7" y1="194.4" x2="417.3" y2="194.4" stroke="#1a1a1a" stroke-width="1.2"/>
<rect x="408.7" y="202.3" width="11.6" height="71.2" fill="#ba0029" stroke="#9a0024" stroke-width="0.5"/>
<text x="379" y="285.1" font-size="8.6" fill="#1e1e1e" stroke="#1e1e1e" stroke-width="0.1" text-anchor="middle" textLength="19.73" lengthAdjust="spacingAndGlyphs">Mock</text>
<text x="411.2" y="285.1" font-size="8.6" fill="#1e1e1e" stroke="#1e1e1e" stroke-width="0.1" text-anchor="middle" textLength="21.55" lengthAdjust="spacingAndGlyphs">PEBL</text>
<text x="258.1" y="173" font-size="9" fill="#1e1e1e" stroke="#1e1e1e" stroke-width="0.1">Donor 1</text>
<text x="318.8" y="173" font-size="9" fill="#1e1e1e" stroke="#1e1e1e" stroke-width="0.1">Donor 2</text>
<text x="380" y="173" font-size="9" fill="#1e1e1e" stroke="#1e1e1e" stroke-width="0.1">Donor 3</text>
<polyline points="264.4,184.8 264.4,183.3 294,183.3 294,184.8" fill="none" stroke="#111" stroke-width="1.2" stroke-linejoin="round"/>
<circle cx="275.4" cy="178.5" r="1.3" fill="#141414" stroke="none" stroke-width="1"/>
<circle cx="279.2" cy="178.5" r="1.3" fill="#141414" stroke="none" stroke-width="1"/>
<circle cx="283" cy="178.5" r="1.3" fill="#141414" stroke="none" stroke-width="1"/>
<polyline points="324.4,214.1 324.4,212.6 354.4,212.6 354.4,214.1" fill="none" stroke="#111" stroke-width="1.2" stroke-linejoin="round"/>
<circle cx="333.7" cy="207.3" r="1.3" fill="#141414" stroke="none" stroke-width="1"/>
<circle cx="337.5" cy="207.3" r="1.3" fill="#141414" stroke="none" stroke-width="1"/>
<circle cx="341.3" cy="207.3" r="1.3" fill="#141414" stroke="none" stroke-width="1"/>
<circle cx="345.1" cy="207.3" r="1.3" fill="#141414" stroke="none" stroke-width="1"/>
<polyline points="384.4,190.5 384.4,189 414.4,189 414.4,190.5" fill="none" stroke="#111" stroke-width="1.2" stroke-linejoin="round"/>
<circle cx="395.6" cy="183.6" r="1.3" fill="#141414" stroke="none" stroke-width="1"/>
<circle cx="399.4" cy="183.6" r="1.3" fill="#141414" stroke="none" stroke-width="1"/>
<circle cx="403.2" cy="183.6" r="1.3" fill="#141414" stroke="none" stroke-width="1"/>
<rect x="432" y="189" width="6.7" height="6.3" fill="#6aae3c" stroke="none" stroke-width="0"/>
<rect x="432" y="198.1" width="6.7" height="6.3" fill="#ba0029" stroke="none" stroke-width="0"/>
<text x="441.9" y="195" font-size="8.6" fill="#1e1e1e" stroke="#1e1e1e" stroke-width="0.1" textLength="32.43" lengthAdjust="spacingAndGlyphs">no mRNA</text>
<text x="441.9" y="204.3" font-size="8.6" fill="#1e1e1e" stroke="#1e1e1e" stroke-width="0.1" textLength="15.8" lengthAdjust="spacingAndGlyphs">CAR</text>
<text x="7.5" y="311.8" font-size="11.4" fill="#000" stroke="#000" stroke-width="0.1" font-weight="bold">E</text>
<line x1="48.3" y1="334" x2="48.3" y2="426.9" stroke="#111" stroke-width="1.5"/>
<line x1="44.8" y1="426.4" x2="48.3" y2="426.4" stroke="#111" stroke-width="1.2"/>
<text x="41.1" y="429.4" font-size="8.6" fill="#2a2a2a" stroke="#2a2a2a" stroke-width="0.05" text-anchor="end" textLength="4.16" lengthAdjust="spacingAndGlyphs">0</text>
<line x1="44.8" y1="408.48" x2="48.3" y2="408.48" stroke="#111" stroke-width="1.2"/>
<text x="41.1" y="411.48" font-size="8.6" fill="#2a2a2a" stroke="#2a2a2a" stroke-width="0.05" text-anchor="end" textLength="8.32" lengthAdjust="spacingAndGlyphs">20</text>
<line x1="44.8" y1="390.56" x2="48.3" y2="390.56" stroke="#111" stroke-width="1.2"/>
<text x="41.1" y="393.56" font-size="8.6" fill="#2a2a2a" stroke="#2a2a2a" stroke-width="0.05" text-anchor="end" textLength="8.32" lengthAdjust="spacingAndGlyphs">40</text>
<line x1="44.8" y1="372.64" x2="48.3" y2="372.64" stroke="#111" stroke-width="1.2"/>
<text x="41.1" y="375.64" font-size="8.6" fill="#2a2a2a" stroke="#2a2a2a" stroke-width="0.05" text-anchor="end" textLength="8.32" lengthAdjust="spacingAndGlyphs">60</text>
<line x1="44.8" y1="354.72" x2="48.3" y2="354.72" stroke="#111" stroke-width="1.2"/>
<text x="41.1" y="357.72" font-size="8.6" fill="#2a2a2a" stroke="#2a2a2a" stroke-width="0.05" text-anchor="end" textLength="8.32" lengthAdjust="spacingAndGlyphs">80</text>
<line x1="44.8" y1="336.8" x2="48.3" y2="336.8" stroke="#111" stroke-width="1.2"/>
<text x="41.1" y="339.8" font-size="8.6" fill="#2a2a2a" stroke="#2a2a2a" stroke-width="0.05" text-anchor="end" textLength="12.48" lengthAdjust="spacingAndGlyphs">100</text>
<line x1="109.6" y1="334" x2="109.6" y2="426.9" stroke="#111" stroke-width="1.5"/>
<line x1="106.1" y1="426.4" x2="109.6" y2="426.4" stroke="#111" stroke-width="1.2"/>
<line x1="106.1" y1="408.48" x2="109.6" y2="408.48" stroke="#111" stroke-width="1.2"/>
<line x1="106.1" y1="390.56" x2="109.6" y2="390.56" stroke="#111" stroke-width="1.2"/>
<line x1="106.1" y1="372.64" x2="109.6" y2="372.64" stroke="#111" stroke-width="1.2"/>
<line x1="106.1" y1="354.72" x2="109.6" y2="354.72" stroke="#111" stroke-width="1.2"/>
<line x1="106.1" y1="336.8" x2="109.6" y2="336.8" stroke="#111" stroke-width="1.2"/>
<line x1="45" y1="426.3" x2="166.5" y2="426.3" stroke="#1d2a44" stroke-width="1.5"/>
<text x="22.7" y="380.2" font-size="8.8" fill="#1e1e1e" stroke="#1e1e1e" stroke-width="0.2" text-anchor="middle" textLength="43.5" lengthAdjust="spacingAndGlyphs" transform="rotate(-90 22.7 380.2)">% cytotoxicity</text>
<text x="77.7" y="328.8" font-size="9.9" fill="#1e1e1e" stroke="#1e1e1e" stroke-width="0.1" text-anchor="middle" textLength="16.4" lengthAdjust="spacingAndGlyphs">Pt.3</text>
<text x="141.2" y="328.8" font-size="9.9" fill="#1e1e1e" stroke="#1e1e1e" stroke-width="0.1" text-anchor="middle" textLength="16.4" lengthAdjust="spacingAndGlyphs">Pt.4</text>
<polyline points="62.75,371.25 92.25,383.1" fill="none" stroke="#8a0b27" stroke-width="1.5" stroke-linejoin="round"/>
<circle cx="62.75" cy="371.25" r="2.8" fill="#a3102f" stroke="none" stroke-width="1"/>
<circle cx="92.25" cy="383.1" r="2.8" fill="#a3102f" stroke="none" stroke-width="1"/>
<polyline points="118.75,361 137.5,377.5 156.25,390.5" fill="none" stroke="#8a0b27" stroke-width="1.5" stroke-linejoin="round"/>
<circle cx="118.75" cy="361" r="2.8" fill="#a3102f" stroke="none" stroke-width="1"/>
<circle cx="137.5" cy="377.5" r="2.8" fill="#a3102f" stroke="none" stroke-width="1"/>
<circle cx="156.25" cy="390.5" r="2.8" fill="#a3102f" stroke="none" stroke-width="1"/>
<polyline points="137.5,426.3 156.5,424.3" fill="none" stroke="#222c58" stroke-width="1.5" stroke-linejoin="round"/>
<circle cx="62.75" cy="426.3" r="2.3" fill="#fff" stroke="#222c58" stroke-width="1.1"/>
<circle cx="92.25" cy="426.3" r="2.3" fill="#fff" stroke="#222c58" stroke-width="1.1"/>
<circle cx="118.75" cy="426.3" r="2.3" fill="#fff" stroke="#222c58" stroke-width="1.1"/>
<circle cx="137.5" cy="426.3" r="2.3" fill="#fff" stroke="#222c58" stroke-width="1.1"/>
<circle cx="156.5" cy="424.3" r="2.3" fill="#fff" stroke="#222c58" stroke-width="1.1"/>
<circle cx="57.6" cy="397.5" r="1.3" fill="#141414" stroke="none" stroke-width="1"/>
<circle cx="61.4" cy="397.5" r="1.3" fill="#141414" stroke="none" stroke-width="1"/>
<circle cx="65.2" cy="397.5" r="1.3" fill="#141414" stroke="none" stroke-width="1"/>
<circle cx="69" cy="397.5" r="1.3" fill="#141414" stroke="none" stroke-width="1"/>
<circle cx="87.6" cy="408.7" r="1.3" fill="#141414" stroke="none" stroke-width="1"/>
<circle cx="91.4" cy="408.7" r="1.3" fill="#141414" stroke="none" stroke-width="1"/>
<circle cx="95.2" cy="408.7" r="1.3" fill="#141414" stroke="none" stroke-width="1"/>
<circle cx="99" cy="408.7" r="1.3" fill="#141414" stroke="none" stroke-width="1"/>
<circle cx="113.9" cy="393" r="1.3" fill="#141414" stroke="none" stroke-width="1"/>
<circle cx="117.7" cy="393" r="1.3" fill="#141414" stroke="none" stroke-width="1"/>
<circle cx="121.5" cy="393" r="1.3" fill="#141414" stroke="none" stroke-width="1"/>
<circle cx="125.3" cy="393" r="1.3" fill="#141414" stroke="none" stroke-width="1"/>
<circle cx="132.2" cy="403.5" r="1.3" fill="#141414" stroke="none" stroke-width="1"/>
<circle cx="136" cy="403.5" r="1.3" fill="#141414" stroke="none" stroke-width="1"/>
<circle cx="139.8" cy="403.5" r="1.3" fill="#141414" stroke="none" stroke-width="1"/>
<circle cx="143.6" cy="403.5" r="1.3" fill="#141414" stroke="none" stroke-width="1"/>
<circle cx="151.6" cy="408.1" r="1.3" fill="#141414" stroke="none" stroke-width="1"/>
<circle cx="155.4" cy="408.1" r="1.3" fill="#141414" stroke="none" stroke-width="1"/>
<circle cx="159.2" cy="408.1" r="1.3" fill="#141414" stroke="none" stroke-width="1"/>
<circle cx="163" cy="408.1" r="1.3" fill="#141414" stroke="none" stroke-width="1"/>
<text x="62.6" y="436.9" font-size="8.6" fill="#1e1e1e" stroke="#1e1e1e" stroke-width="0.1" text-anchor="middle" textLength="10.4" lengthAdjust="spacingAndGlyphs">2:1</text>
<text x="92.1" y="436.9" font-size="8.6" fill="#1e1e1e" stroke="#1e1e1e" stroke-width="0.1" text-anchor="middle" textLength="10.4" lengthAdjust="spacingAndGlyphs">1:1</text>
<text x="118.4" y="436.9" font-size="8.6" fill="#1e1e1e" stroke="#1e1e1e" stroke-width="0.1" text-anchor="middle" textLength="10.4" lengthAdjust="spacingAndGlyphs">2:1</text>
<text x="137.75" y="436.9" font-size="8.6" fill="#1e1e1e" stroke="#1e1e1e" stroke-width="0.1" text-anchor="middle" textLength="10.4" lengthAdjust="spacingAndGlyphs">1:1</text>
<text x="157.2" y="436.9" font-size="8.6" fill="#1e1e1e" stroke="#1e1e1e" stroke-width="0.1" text-anchor="middle" textLength="10.4" lengthAdjust="spacingAndGlyphs">1:2</text>
<text x="107.5" y="450.6" font-size="9.3" fill="#1e1e1e" stroke="#1e1e1e" stroke-width="0.15" text-anchor="middle" textLength="9.3" lengthAdjust="spacingAndGlyphs">E:T</text>
<circle cx="161.25" cy="341" r="2.4" fill="#fff" stroke="#34487a" stroke-width="1.15"/>
<text x="166.3" y="343.7" font-size="8.6" fill="#1e1e1e" stroke="#1e1e1e" stroke-width="0.1" textLength="17.88" lengthAdjust="spacingAndGlyphs">mock</text>
<circle cx="161.25" cy="349.75" r="2.8" fill="#a3102f" stroke="none" stroke-width="1"/>
<text x="166.3" y="352.6" font-size="8.6" fill="#1e1e1e" stroke="#1e1e1e" stroke-width="0.1" textLength="15.8" lengthAdjust="spacingAndGlyphs">CAR</text>
<text x="202.8" y="311.8" font-size="11.4" fill="#000" stroke="#000" stroke-width="0.1" font-weight="bold">F</text>
<line x1="244.3" y1="330.7" x2="244.3" y2="423.7" stroke="#111" stroke-width="1.5"/>
<line x1="240.8" y1="423.1" x2="244.3" y2="423.1" stroke="#111" stroke-width="1.2"/>
<text x="237.1" y="426.1" font-size="8.6" fill="#2a2a2a" stroke="#2a2a2a" stroke-width="0.05" text-anchor="end" textLength="4.16" lengthAdjust="spacingAndGlyphs">0</text>
<line x1="240.8" y1="393.1" x2="244.3" y2="393.1" stroke="#111" stroke-width="1.2"/>
<text x="237.1" y="396.1" font-size="8.6" fill="#2a2a2a" stroke="#2a2a2a" stroke-width="0.05" text-anchor="end" textLength="8.32" lengthAdjust="spacingAndGlyphs">20</text>
<line x1="240.8" y1="363.1" x2="244.3" y2="363.1" stroke="#111" stroke-width="1.2"/>
<text x="237.1" y="366.1" font-size="8.6" fill="#2a2a2a" stroke="#2a2a2a" stroke-width="0.05" text-anchor="end" textLength="8.32" lengthAdjust="spacingAndGlyphs">40</text>
<line x1="240.8" y1="333.1" x2="244.3" y2="333.1" stroke="#111" stroke-width="1.2"/>
<text x="237.1" y="336.1" font-size="8.6" fill="#2a2a2a" stroke="#2a2a2a" stroke-width="0.05" text-anchor="end" textLength="8.32" lengthAdjust="spacingAndGlyphs">60</text>
<line x1="240.8" y1="423.1" x2="303.8" y2="423.1" stroke="#111" stroke-width="1.5"/>
<line x1="263.05" y1="423.1" x2="263.05" y2="425" stroke="#111" stroke-width="1.1"/>
<line x1="281.8" y1="423.1" x2="281.8" y2="425" stroke="#111" stroke-width="1.1"/>
<line x1="300.55" y1="423.1" x2="300.55" y2="425" stroke="#111" stroke-width="1.1"/>
<text x="244.3" y="436.9" font-size="8.6" fill="#1e1e1e" stroke="#1e1e1e" stroke-width="0.1" text-anchor="middle" textLength="4.16" lengthAdjust="spacingAndGlyphs">0</text>
<text x="263.05" y="436.9" font-size="8.6" fill="#1e1e1e" stroke="#1e1e1e" stroke-width="0.1" text-anchor="middle" textLength="4.16" lengthAdjust="spacingAndGlyphs">7</text>
<text x="281.8" y="436.9" font-size="8.6" fill="#1e1e1e" stroke="#1e1e1e" stroke-width="0.1" text-anchor="middle" textLength="8.32" lengthAdjust="spacingAndGlyphs">14</text>
<text x="300.55" y="436.9" font-size="8.6" fill="#1e1e1e" stroke="#1e1e1e" stroke-width="0.1" text-anchor="middle" textLength="8.32" lengthAdjust="spacingAndGlyphs">21</text>
<line x1="326.2" y1="330.7" x2="326.2" y2="423.7" stroke="#111" stroke-width="1.5"/>
<line x1="322.7" y1="423.1" x2="326.2" y2="423.1" stroke="#111" stroke-width="1.2"/>
<text x="319" y="426.1" font-size="8.6" fill="#2a2a2a" stroke="#2a2a2a" stroke-width="0.05" text-anchor="end" textLength="4.16" lengthAdjust="spacingAndGlyphs">0</text>
<line x1="322.7" y1="393.1" x2="326.2" y2="393.1" stroke="#111" stroke-width="1.2"/>
<text x="319" y="396.1" font-size="8.6" fill="#2a2a2a" stroke="#2a2a2a" stroke-width="0.05" text-anchor="end" textLength="8.32" lengthAdjust="spacingAndGlyphs">20</text>
<line x1="322.7" y1="363.1" x2="326.2" y2="363.1" stroke="#111" stroke-width="1.2"/>
<text x="319" y="366.1" font-size="8.6" fill="#2a2a2a" stroke="#2a2a2a" stroke-width="0.05" text-anchor="end" textLength="8.32" lengthAdjust="spacingAndGlyphs">40</text>
<line x1="322.7" y1="333.1" x2="326.2" y2="333.1" stroke="#111" stroke-width="1.2"/>
<text x="319" y="336.1" font-size="8.6" fill="#2a2a2a" stroke="#2a2a2a" stroke-width="0.05" text-anchor="end" textLength="8.32" lengthAdjust="spacingAndGlyphs">60</text>
<line x1="322.7" y1="423.1" x2="385.7" y2="423.1" stroke="#111" stroke-width="1.5"/>
<line x1="344.95" y1="423.1" x2="344.95" y2="425" stroke="#111" stroke-width="1.1"/>
<line x1="363.7" y1="423.1" x2="363.7" y2="425" stroke="#111" stroke-width="1.1"/>
<line x1="382.45" y1="423.1" x2="382.45" y2="425" stroke="#111" stroke-width="1.1"/>
<text x="326.2" y="436.9" font-size="8.6" fill="#1e1e1e" stroke="#1e1e1e" stroke-width="0.1" text-anchor="middle" textLength="4.16" lengthAdjust="spacingAndGlyphs">0</text>
<text x="344.95" y="436.9" font-size="8.6" fill="#1e1e1e" stroke="#1e1e1e" stroke-width="0.1" text-anchor="middle" textLength="4.16" lengthAdjust="spacingAndGlyphs">7</text>
<text x="363.7" y="436.9" font-size="8.6" fill="#1e1e1e" stroke="#1e1e1e" stroke-width="0.1" text-anchor="middle" textLength="8.32" lengthAdjust="spacingAndGlyphs">14</text>
<text x="382.45" y="436.9" font-size="8.6" fill="#1e1e1e" stroke="#1e1e1e" stroke-width="0.1" text-anchor="middle" textLength="8.32" lengthAdjust="spacingAndGlyphs">21</text>
<text x="254.4" y="325" font-size="9.4" fill="#1e1e1e" stroke="#1e1e1e" stroke-width="0.1">No target</text>
<text x="343.5" y="325" font-size="9.4" fill="#1e1e1e" stroke="#1e1e1e" stroke-width="0.1">Target</text>
<text transform="translate(223.4 406.8) rotate(-90)" font-size="8.6" fill="#1e1e1e" stroke="#1e1e1e" stroke-width="0.2"><tspan textLength="54" lengthAdjust="spacingAndGlyphs">% input cells (x 10</tspan><tspan font-size="5.4" dy="-3.2">3</tspan><tspan dy="3.2" textLength="2.6" lengthAdjust="spacingAndGlyphs">)</tspan></text>
<text x="291" y="449.8" font-size="9.4" fill="#1e1e1e" stroke="#1e1e1e" stroke-width="0.05" font-weight="bold" textLength="44.5" lengthAdjust="spacingAndGlyphs">Days in culture</text>
<polyline points="244.3,423.1 263.05,422.6 281.8,416.5 300.55,401.8" fill="none" stroke="#a8102f" stroke-width="1.5" stroke-linejoin="round"/>
<polyline points="244.3,423.1 263.05,422.6 281.8,420.5 300.55,416.2" fill="none" stroke="#4d74a0" stroke-width="1.4" stroke-linejoin="round"/>
<polyline points="244.3,423.1 263.05,422.6 281.8,418 300.55,415.2" fill="none" stroke="#222c58" stroke-width="1.5" stroke-linejoin="round"/>
<polyline points="244.3,423.1 263.05,422.8 281.8,420 300.55,416.3" fill="none" stroke="#222c58" stroke-width="1.5" stroke-linejoin="round"/>
<line x1="300.55" y1="397.8" x2="300.55" y2="401.8" stroke="#151515" stroke-width="1.2"/>
<line x1="298.55" y1="397.8" x2="302.55" y2="397.8" stroke="#151515" stroke-width="1.2"/>
<rect x="298.15" y="399.4" width="4.8" height="4.8" fill="#a8102f" stroke="none" stroke-width="0"/>
<rect x="279.3" y="415" width="5" height="5" fill="#fff" stroke="#222c58" stroke-width="1.1"/>
<rect x="279.6" y="420" width="4.4" height="2.5" fill="#fff" stroke="none" stroke-width="0"/>
<circle cx="244.3" cy="423.1" r="2.3" fill="#fff" stroke="#222c58" stroke-width="1.05"/>
<circle cx="263.05" cy="422.6" r="2.3" fill="#fff" stroke="#222c58" stroke-width="1.05"/>
<circle cx="281.8" cy="418" r="2.3" fill="#fff" stroke="#222c58" stroke-width="1.05"/>
<circle cx="300.55" cy="415.2" r="2.3" fill="#fff" stroke="#222c58" stroke-width="1.05"/>
<polyline points="326.2,423.1 344.95,420.3 363.7,404.4 382.45,338.5" fill="none" stroke="#a8102f" stroke-width="1.5" stroke-linejoin="round"/>
<polyline points="326.2,423.1 344.95,420.3 363.7,416.3 382.45,396.9" fill="none" stroke="#4d74a0" stroke-width="1.4" stroke-linejoin="round"/>
<polyline points="326.2,423.1 344.95,420.3 363.7,418.6 382.45,418.5" fill="none" stroke="#222c58" stroke-width="1.5" stroke-linejoin="round"/>
<polyline points="326.2,423.1 344.95,421.2 363.7,419.6 382.45,419.2" fill="none" stroke="#222c58" stroke-width="1.5" stroke-linejoin="round"/>
<line x1="382.45" y1="385.6" x2="382.45" y2="408.5" stroke="#151515" stroke-width="1.2"/>
<line x1="380.15" y1="385.6" x2="384.75" y2="385.6" stroke="#151515" stroke-width="1.2"/>
<line x1="380.15" y1="408.5" x2="384.75" y2="408.5" stroke="#151515" stroke-width="1.2"/>
<line x1="382.45" y1="333.5" x2="382.45" y2="343" stroke="#151515" stroke-width="1.2"/>
<line x1="380.15" y1="333.5" x2="384.75" y2="333.5" stroke="#151515" stroke-width="1.2"/>
<line x1="380.15" y1="343" x2="384.75" y2="343" stroke="#151515" stroke-width="1.2"/>
<rect x="361.2" y="402" width="5" height="5" fill="#a8102f" stroke="none" stroke-width="0"/>
<rect x="379.95" y="336" width="5" height="5" fill="#a8102f" stroke="none" stroke-width="0"/>
<rect x="361.4" y="413.8" width="4.6" height="4.6" fill="#fff" stroke="#4d74a0" stroke-width="1.1"/>
<rect x="379.95" y="394.4" width="5" height="5" fill="#fff" stroke="#4d74a0" stroke-width="1.15"/>
<circle cx="326.2" cy="423.1" r="2.3" fill="#fff" stroke="#222c58" stroke-width="1.05"/>
<circle cx="344.95" cy="420.3" r="2.3" fill="#fff" stroke="#222c58" stroke-width="1.05"/>
<circle cx="363.7" cy="418.6" r="2.3" fill="#fff" stroke="#222c58" stroke-width="1.05"/>
<circle cx="382.45" cy="418.5" r="2.3" fill="#fff" stroke="#222c58" stroke-width="1.05"/>
<circle cx="361.7" cy="387.8" r="1.3" fill="#141414" stroke="none" stroke-width="1"/>
<circle cx="365.5" cy="387.8" r="1.3" fill="#141414" stroke="none" stroke-width="1"/>
<circle cx="381.9" cy="367.5" r="1.3" fill="#141414" stroke="none" stroke-width="1"/>
<circle cx="385.7" cy="367.5" r="1.3" fill="#141414" stroke="none" stroke-width="1"/>
<circle cx="402.8" cy="336.6" r="2.2" fill="#fff" stroke="#222c58" stroke-width="1.1"/>
<circle cx="402.6" cy="346.6" r="2.1" fill="#a3102f" stroke="#6a1030" stroke-width="0.6"/>
<rect x="400.2" y="353.5" width="5.4" height="5.4" fill="#f4f8fc" stroke="#5a82b0" stroke-width="1.05"/>
<rect x="400.4" y="363.6" width="5" height="5" fill="#a3102f" stroke="none" stroke-width="0"/>
<text x="408.7" y="339.3" font-size="8.6" fill="#1e1e1e" stroke="#1e1e1e" stroke-width="0.1" textLength="17.88" lengthAdjust="spacingAndGlyphs">mock</text>
<text x="408.5" y="349.3" font-size="8.6" fill="#1e1e1e" stroke="#1e1e1e" stroke-width="0.1" textLength="19.13" lengthAdjust="spacingAndGlyphs">PEBL</text>
<text x="408.7" y="358.6" font-size="8.6" fill="#1e1e1e" stroke="#1e1e1e" stroke-width="0.1" textLength="17.88" lengthAdjust="spacingAndGlyphs">mock</text>
<text x="408.5" y="368.7" font-size="8.6" fill="#1e1e1e" stroke="#1e1e1e" stroke-width="0.1" textLength="19.13" lengthAdjust="spacingAndGlyphs">PEBL</text>
<line x1="429.3" y1="333.2" x2="429.3" y2="350.2" stroke="#222" stroke-width="1.2"/>
<line x1="429.3" y1="353.2" x2="429.3" y2="370.2" stroke="#222" stroke-width="1.2"/>
<text x="435" y="339.6" font-size="8.6" fill="#1e1e1e" stroke="#1e1e1e" stroke-width="0.1" textLength="8.32" lengthAdjust="spacingAndGlyphs">no</text>
<text x="432.4" y="348.4" font-size="8.6" fill="#1e1e1e" stroke="#1e1e1e" stroke-width="0.1" textLength="15.8" lengthAdjust="spacingAndGlyphs">CAR</text>
<text x="432.4" y="364.3" font-size="8.6" fill="#1e1e1e" stroke="#1e1e1e" stroke-width="0.1" textLength="15.8" lengthAdjust="spacingAndGlyphs">CAR</text>
</svg></body></html>
